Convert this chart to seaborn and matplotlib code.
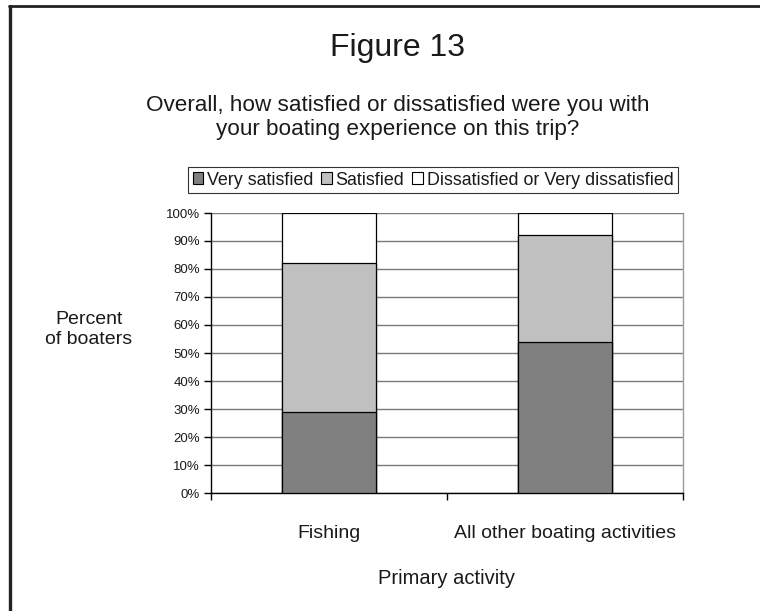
import matplotlib
matplotlib.use("Agg")
import matplotlib.pyplot as plt
import seaborn as sns
import pandas as pd
from matplotlib.patches import Patch
from matplotlib.lines import Line2D
from matplotlib.ticker import FixedLocator

categories = ["Fishing", "All other boating activities"]
very_satisfied = [29, 54]
satisfied = [53, 38]
dissatisfied = [18, 8]
series_names = ["Very satisfied", "Satisfied", "Dissatisfied or Very dissatisfied"]
series_colors = ["#808080", "#C0C0C0", "#FFFFFF"]
y_ticks = [0, 10, 20, 30, 40, 50, 60, 70, 80, 90, 100]
y_tick_labels = [f"{v}%" for v in y_ticks]

sns.set_theme(style="white")
plt.rcParams["font.family"] = ["Liberation Sans", "DejaVu Sans"]

df = pd.DataFrame({
    "activity": categories,
    "very": very_satisfied,
    "sat": satisfied,
    "dis": dissatisfied,
})
df["c1"] = df["very"]
df["c2"] = df["very"] + df["sat"]
df["c3"] = df["very"] + df["sat"] + df["dis"]

fig = plt.figure(figsize=(7.6, 6.11), dpi=100)
ax = fig.add_axes([211 / 760, 1 - 493 / 611, 472 / 760, 280 / 611])

# stacked by drawing cumulative totals, tallest first
for col, color in zip(["c3", "c2", "c1"], series_colors[::-1]):
    sns.barplot(data=df, x="activity", y=col, order=categories, color=color,
                width=0.4, edgecolor="black", linewidth=0.9, saturation=1,
                ax=ax, zorder=3, errorbar=None)

ax.set_ylim(0, 100)
ax.set_xlim(-0.5, 1.5)
ax.set_yticks(y_ticks)
ax.set_yticklabels(y_tick_labels)
ax.yaxis.grid(True, color="#7a7a7a", linewidth=1.0, zorder=0)
ax.xaxis.grid(False)
ax.set_axisbelow(True)
ax.set_xlabel("")
ax.set_ylabel("")

ax.spines["top"].set_visible(False)
ax.spines["left"].set_color("black")
ax.spines["left"].set_linewidth(1.0)
ax.spines["bottom"].set_color("black")
ax.spines["bottom"].set_linewidth(1.0)
ax.spines["right"].set_color("#9a9a9a")
ax.spines["right"].set_linewidth(1.0)

ax.tick_params(axis="y", which="major", left=True, length=5, width=1,
               color="black", pad=3, labelsize=9.5, labelcolor="#1a1a1a")
ax.tick_params(axis="x", which="major", bottom=False, length=0, pad=23,
               labelsize=14, labelcolor="#1a1a1a")
ax.xaxis.set_minor_locator(FixedLocator([-0.5, 0.5, 1.5]))
ax.tick_params(axis="x", which="minor", bottom=True, length=5, width=1,
               color="black", direction="out")

# legend
handles = [Patch(facecolor=c, edgecolor="black", linewidth=0.8) for c in series_colors]
leg = fig.legend(handles, series_names, loc="center",
                 bbox_to_anchor=(433 / 760, 1 - 180 / 611), ncol=3,
                 fontsize=12.9, frameon=True, fancybox=False,
                 handlelength=0.6, handleheight=0.6, handletextpad=0.2,
                 columnspacing=0.45, borderpad=0.25, borderaxespad=0)
leg.get_frame().set_edgecolor("black")
leg.get_frame().set_linewidth(0.8)
for t in leg.get_texts():
    t.set_color("#1a1a1a")

# texts
fig.text(398 / 760, 1 - 48 / 611, "Figure 13", ha="center", va="center",
         fontsize=23, color="#1a1a1a")
fig.text(398 / 760, 1 - 117.5 / 611,
         "Overall, how satisfied or dissatisfied were you with\nyour boating experience on this trip?",
         ha="center", va="center", fontsize=16.2, color="#1a1a1a", linespacing=1.25)
fig.text(89 / 760, 1 - 329.5 / 611, "Percent\nof boaters", ha="center", va="center",
         fontsize=14, color="#1a1a1a", linespacing=1.3)
fig.text(446 / 760, 1 - 579 / 611, "Primary activity", ha="center", va="center",
         fontsize=14.5, color="#1a1a1a")

# page frame: top and left lines
fig.add_artist(Line2D([9.5 / 760, 9.5 / 760], [0, 1 - 6 / 611], color="#222222",
                      linewidth=2.4, transform=fig.transFigure))
fig.add_artist(Line2D([8.5 / 760, 1], [1 - 6 / 611, 1 - 6 / 611], color="#222222",
                      linewidth=2.0, transform=fig.transFigure))

fig.savefig("out.png", dpi=100, facecolor="white")
